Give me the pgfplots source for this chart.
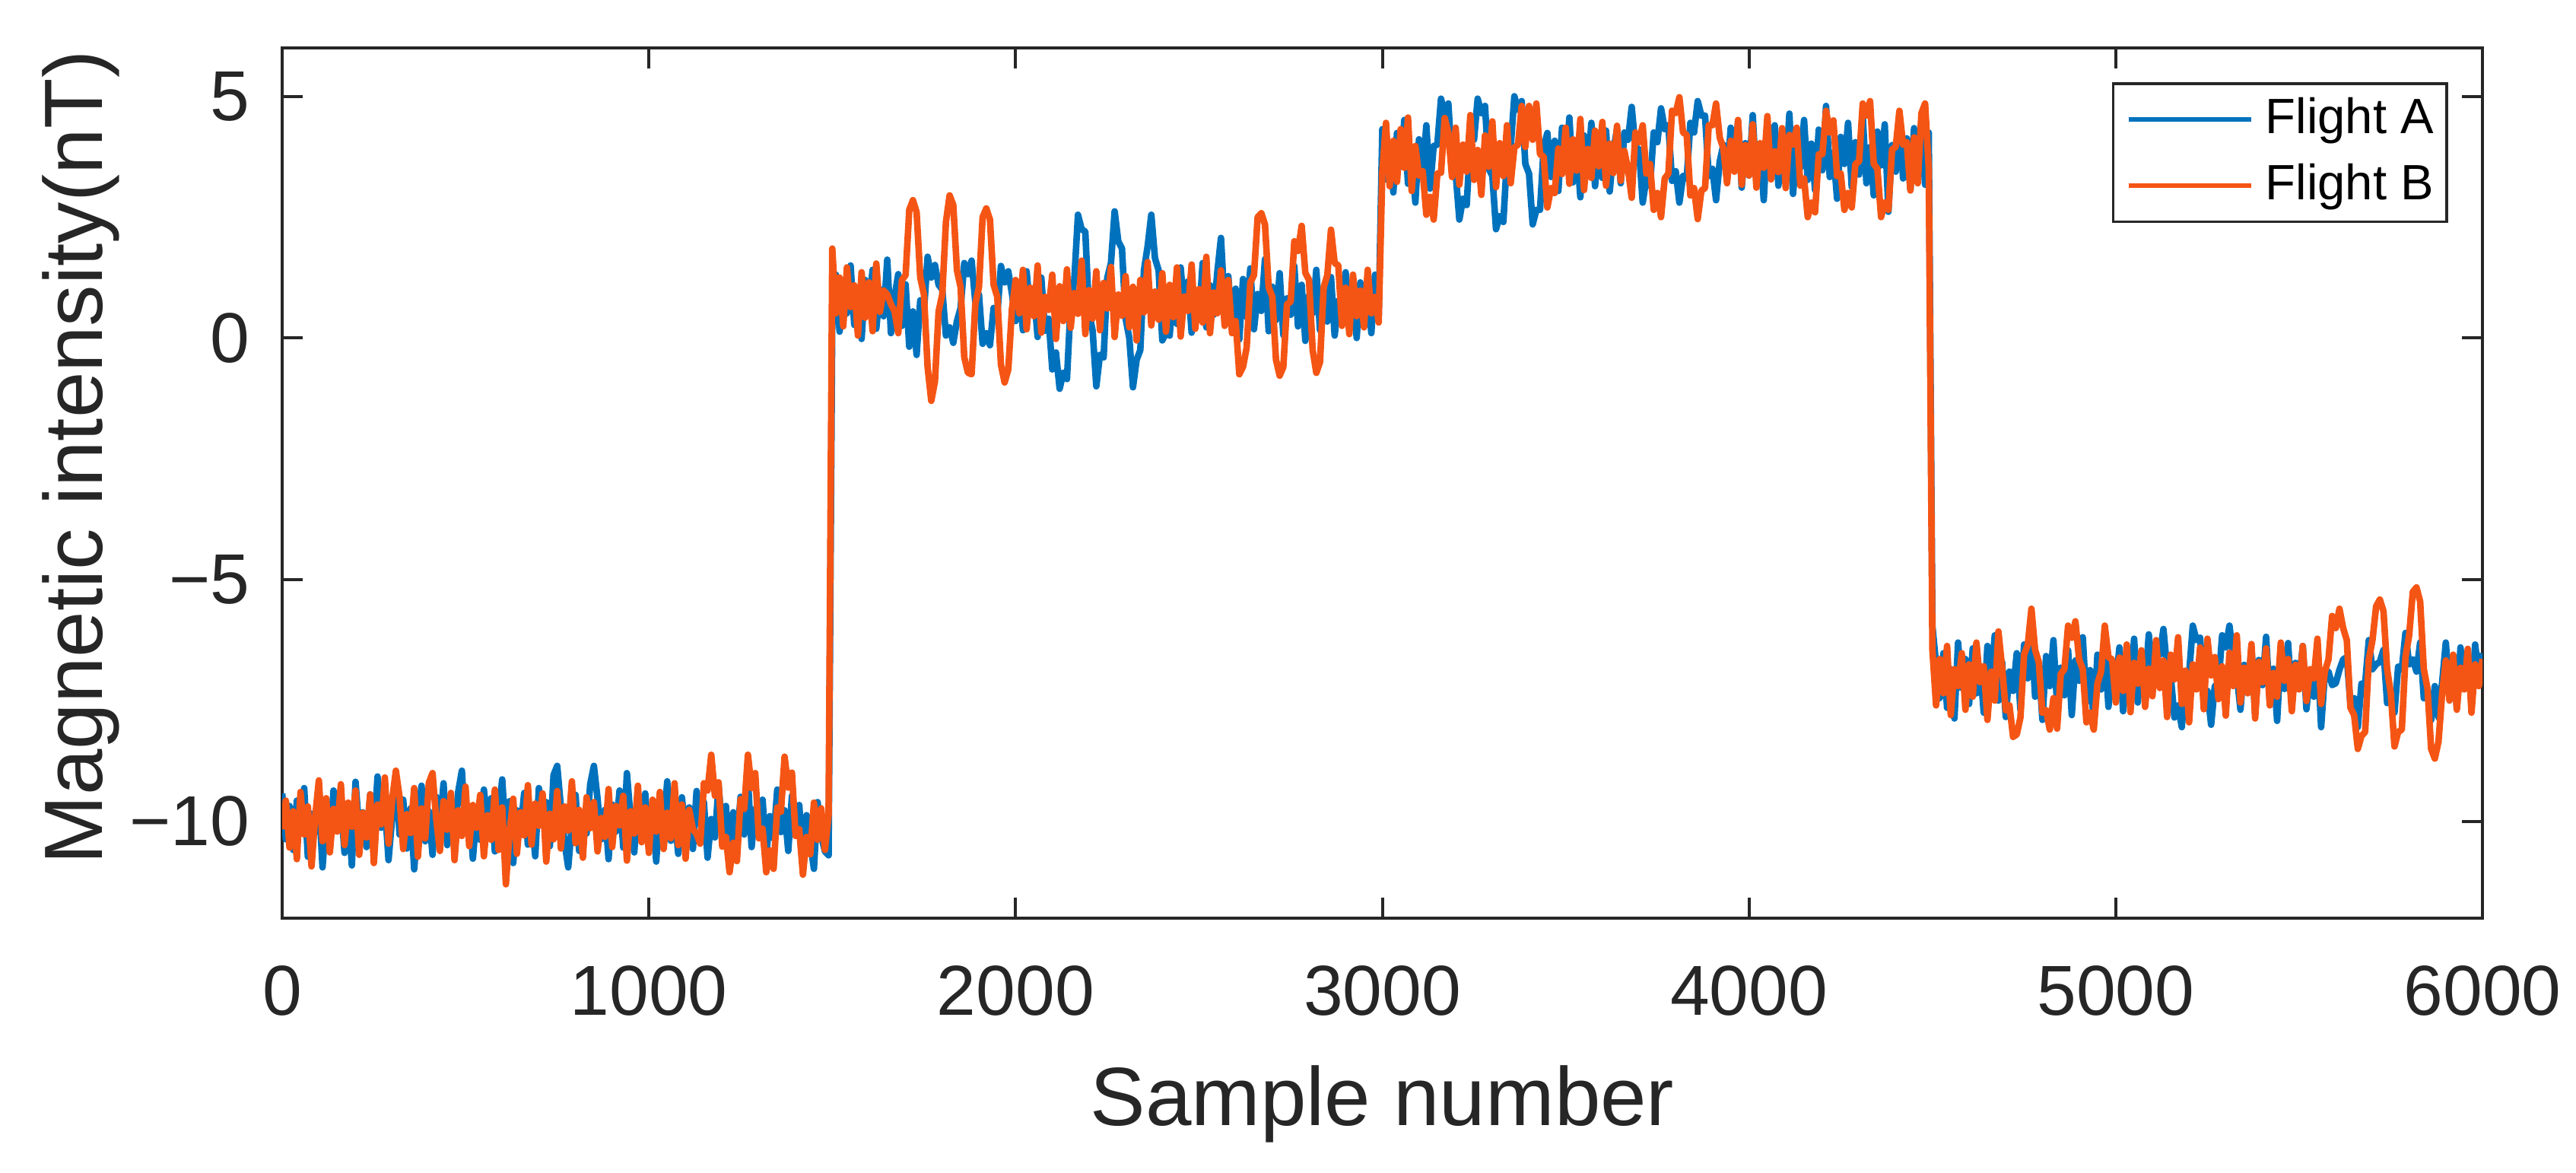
\documentclass[border=0pt]{standalone}
\usepackage{fontspec}
\setmainfont{Liberation Sans}
\usepackage{pgfplots}
\pgfplotsset{compat=1.18}
\usepackage{pgfplotstable}
\definecolor{mblue}{RGB}{0,114,189}
\definecolor{morange}{RGB}{245,85,20}
\definecolor{axgray}{RGB}{38,38,38}

\pgfplotstableread{
x a b
0 -9.42 -10.16
10 -10.37 -9.57
20 -9.68 -10.54
30 -10.59 -9.79
40 -9.57 -10.78
50 -10.06 -9.39
60 -9.31 -10.27
70 -10.73 -9.69
80 -9.84 -10.93
90 -10.22 -9.90
100 -9.53 -9.15
110 -10.95 -10.41
120 -9.89 -9.52
130 -10.46 -10.64
140 -9.36 -9.74
150 -10.11 -10.21
160 -9.61 -9.23
170 -10.65 -10.49
180 -9.76 -9.61
190 -10.91 -10.11
200 -9.18 -9.36
210 -10.19 -10.69
220 -9.81 -9.82
230 -10.53 -10.33
240 -9.44 -9.44
250 -10.33 -10.86
260 -9.07 -9.65
270 -10.13 -10.06
280 -9.66 -9.09
290 -10.80 -10.46
300 -9.90 -9.55
310 -8.99 -8.95
320 -10.27 -9.49
330 -9.55 -10.57
340 -10.56 -9.85
350 -9.73 -10.24
360 -10.99 -9.31
370 -9.98 -10.73
380 -9.26 -9.73
390 -10.41 -10.35
400 -9.79 -9.20
410 -10.69 -9.00
420 -9.49 -9.95
430 -10.16 -10.61
440 -9.21 -9.58
450 -10.49 -10.17
460 -9.63 -9.41
470 -10.30 -10.80
480 -9.39 -9.77
490 -8.95 -10.30
500 -10.22 -9.28
510 -9.69 -10.51
520 -10.77 -9.66
530 -9.84 -10.13
540 -10.38 -9.45
550 -9.34 -10.72
560 -10.05 -9.87
570 -9.52 -10.38
580 -10.62 -9.34
590 -9.92 -10.59
600 -9.13 -9.71
610 -10.35 -11.30
620 -9.58 -10.22
630 -10.86 -9.53
640 -9.77 -10.67
650 -10.17 -9.81
660 -9.41 -10.29
670 -10.48 -9.25
680 -9.87 -10.48
690 -10.72 -9.63
700 -9.31 -10.09
710 -10.09 -9.42
720 -9.60 -10.83
730 -10.51 -9.84
740 -9.04 -10.37
750 -8.85 -9.37
760 -9.71 -10.56
770 -10.43 -9.69
780 -10.95 -10.19
790 -10.06 -9.17
800 -9.45 -10.45
810 -10.61 -9.76
820 -9.82 -10.75
830 -10.25 -9.50
840 -9.23 -10.14
850 -8.85 -9.60
860 -9.53 -10.62
870 -10.37 -9.93
880 -9.76 -10.32
890 -10.78 -9.33
900 -9.65 -10.53
910 -10.21 -9.68
920 -9.36 -10.08
930 -10.54 -9.47
940 -9.00 -10.81
950 -9.93 -9.79
960 -10.64 -10.25
970 -9.57 -9.26
980 -10.32 -10.43
990 -9.42 -9.71
1000 -10.46 -10.65
1010 -9.79 -9.55
1020 -10.83 -10.21
1030 -9.61 -9.39
1040 -10.13 -10.57
1050 -9.17 -9.82
1060 -10.40 -10.35
1070 -9.85 -9.21
1080 -10.67 -10.49
1090 -9.50 -9.65
1100 -10.24 -10.77
1110 -9.71 -9.76
1120 -10.57 -10.16
1130 -9.37 -10.26
1140 -10.06 -10.46
1150 -9.60 -9.21
1160 -10.75 -9.36
1170 -9.95 -8.62
1180 -10.33 -9.47
1190 -9.26 -9.19
1200 -10.16 -10.52
1210 -9.68 -10.32
1220 -11.02 -11.05
1230 -9.81 -10.44
1240 -10.45 -10.82
1250 -9.49 -9.54
1260 -10.27 -9.74
1270 -9.12 -8.62
1280 -10.53 -9.31
1290 -9.74 -9.00
1300 -10.11 -10.35
1310 -9.55 -10.15
1320 -10.70 -11.05
1330 -9.89 -10.60
1340 -10.35 -10.98
1350 -9.34 -9.71
1360 -10.22 -9.80
1370 -9.77 -8.66
1380 -10.61 -9.30
1390 -9.47 -8.99
1400 -10.17 -10.30
1410 -9.66 -10.16
1420 -10.80 -11.10
1430 -9.87 -10.32
1440 -10.43 -10.68
1450 -10.98 -9.61
1460 -9.60 -10.38
1470 -10.30 -9.73
1480 -10.62 -10.59
1490 -10.70 -9.87
1500 0.40 1.85
1510 1.31 0.51
1520 0.13 1.25
1530 1.04 0.24
1540 0.51 1.46
1550 1.50 0.64
1560 0.27 1.09
1570 0.93 0.05
1580 -0.02 1.36
1590 1.20 0.42
1600 0.66 1.15
1610 1.41 0.14
1620 0.19 1.54
1630 1.01 0.54
1640 0.45 0.98
1650 1.62 0.90
1660 0.10 0.70
1670 0.86 0.55
1680 1.32 0.10
1690 0.25 1.20
1700 1.11 1.30
1710 -0.18 2.65
1720 0.55 2.85
1730 -0.35 2.60
1740 0.78 1.25
1750 0.55 0.90
1760 1.68 -0.60
1770 1.25 -1.30
1780 1.51 -0.90
1790 1.10 0.55
1800 1.00 0.90
1810 0.05 2.40
1820 0.22 2.95
1830 -0.10 2.75
1840 0.35 1.40
1850 0.62 1.05
1860 1.55 -0.40
1870 1.32 -0.72
1880 1.60 -0.75
1890 0.75 0.70
1900 0.90 1.05
1910 -0.12 2.50
1920 0.10 2.68
1930 -0.15 2.45
1940 0.62 1.10
1950 0.48 0.85
1960 1.49 -0.55
1970 1.15 -0.92
1980 1.38 -0.65
1990 0.92 0.60
2000 0.35 1.20
2010 1.04 0.51
2020 0.16 1.41
2030 1.38 0.18
2040 0.53 1.04
2050 0.94 0.45
2060 0.02 1.50
2070 1.25 0.11
2080 0.15 0.85
2090 0.40 0.58
2100 -0.65 1.31
2110 -0.30 -0.02
2120 -1.05 1.07
2130 -0.72 0.35
2140 -0.85 1.42
2150 0.70 0.21
2160 1.20 0.93
2170 2.55 0.50
2180 2.25 1.60
2190 2.20 0.08
2200 0.55 0.99
2210 0.15 0.40
2220 -1.00 1.38
2230 -0.35 0.16
2240 -0.40 1.14
2250 1.25 0.61
2260 1.55 1.47
2270 2.62 0.02
2280 2.00 0.90
2290 1.85 0.46
2300 0.40 1.28
2310 0.00 0.22
2320 -1.02 1.06
2330 -0.45 -0.05
2340 -0.25 1.20
2350 1.40 0.53
2360 1.90 1.57
2370 2.55 0.26
2380 1.65 0.96
2390 1.40 0.38
2400 -0.05 1.34
2410 0.10 0.13
2420 0.05 1.10
2430 0.99 0.43
2440 0.29 1.46
2450 1.46 0.03
2460 0.58 0.86
2470 1.17 0.56
2480 0.11 1.52
2490 0.96 0.19
2500 0.40 1.01
2510 1.55 0.32
2520 0.22 1.68
2530 1.09 0.10
2540 0.48 0.94
2550 1.36 0.51
2560 2.07 1.40
2570 0.67 0.25
2580 1.28 1.20
2590 0.26 0.10
2600 1.02 0.35
2610 -0.03 -0.75
2620 1.22 -0.60
2630 0.43 -0.20
2640 1.44 1.15
2650 0.18 1.30
2660 0.91 2.50
2670 0.56 2.58
2680 1.63 2.35
2690 0.14 1.05
2700 1.06 0.85
2710 0.37 -0.45
2720 1.34 -0.78
2730 0.06 -0.60
2740 0.82 0.70
2750 0.48 0.75
2760 1.49 2.00
2770 0.24 1.80
2780 1.10 2.32
2790 -0.06 1.35
2800 0.88 1.20
2810 0.51 -0.25
2820 1.41 -0.72
2830 0.16 -0.50
2840 0.99 1.05
2850 0.34 1.30
2860 1.26 2.24
2870 0.05 1.55
2880 0.77 1.50
2890 0.45 0.25
2900 1.36 1.04
2910 0.19 0.08
2920 0.93 1.31
2930 0.00 0.45
2940 1.15 0.98
2950 0.30 0.22
2960 1.07 1.41
2970 0.10 0.51
2980 1.31 0.85
2990 0.48 0.32
3000 4.32 3.44
3010 3.28 4.45
3020 4.03 3.14
3030 3.01 4.08
3040 4.24 3.23
3050 3.54 4.32
3060 4.51 3.52
3070 3.19 4.56
3080 3.91 3.04
3090 2.80 3.97
3100 4.11 3.36
3110 3.39 3.45
3120 4.40 2.55
3130 3.09 2.92
3140 3.97 2.45
3150 4.00 3.40
3160 4.95 3.42
3170 4.62 4.55
3180 4.85 4.24
3190 3.60 3.33
3200 3.40 4.35
3210 2.45 3.17
3220 2.88 4.00
3230 2.75 3.44
3240 4.10 4.61
3250 4.10 3.27
3260 4.95 3.89
3270 4.65 2.96
3280 4.80 4.19
3290 3.50 3.54
3300 3.35 4.48
3310 2.25 3.12
3320 2.52 4.03
3330 2.40 3.35
3340 3.75 4.40
3350 3.95 3.20
3360 5.00 3.94
3370 4.72 4.00
3380 4.90 4.80
3390 3.60 3.95
3400 3.40 4.80
3410 2.35 4.10
3420 2.65 4.85
3430 2.65 3.80
3440 3.95 3.75
3450 4.24 2.70
3460 3.33 3.10
3470 4.08 3.00
3480 3.04 3.92
3490 4.35 3.39
3500 3.49 4.35
3510 4.56 3.19
3520 3.22 4.11
3530 3.94 3.46
3540 2.91 4.53
3550 4.19 3.06
3560 3.44 3.91
3570 4.45 3.31
3580 3.14 4.29
3590 4.00 3.55
3600 3.31 4.47
3610 4.29 3.15
3620 3.03 4.02
3630 3.87 3.41
3640 4.32 4.39
3650 3.20 3.25
3660 4.25 3.87
3670 4.10 3.49
3680 4.78 2.90
3690 3.95 4.25
3700 3.90 4.05
3710 2.80 4.40
3720 3.30 3.40
3730 3.15 3.60
3740 4.25 2.65
3750 4.05 3.00
3760 4.75 2.50
3770 4.32 3.30
3780 4.40 3.40
3790 3.25 4.70
3800 3.45 4.65
3810 2.80 4.98
3820 3.35 4.25
3830 3.30 4.20
3840 4.45 2.95
3850 4.25 3.10
3860 4.90 2.46
3870 4.60 3.05
3880 4.60 3.10
3890 3.35 4.40
3900 3.50 4.40
3910 2.85 4.85
3920 3.65 4.15
3930 4.00 3.92
3940 3.28 3.20
3950 4.35 4.08
3960 3.49 3.44
3970 4.48 4.51
3980 3.11 3.17
3990 4.03 3.99
4000 3.36 3.36
4010 4.61 4.42
4020 3.23 3.11
4030 3.97 4.03
4040 2.85 3.52
4050 4.24 4.59
4060 3.55 3.28
4070 4.40 3.86
4080 3.15 3.43
4090 4.10 4.34
4100 3.41 3.10
4110 4.64 4.20
4120 2.98 4.00
4130 3.92 4.35
4140 3.52 3.15
4150 4.51 3.30
4160 3.27 2.50
4170 4.02 2.80
4180 3.06 2.60
4190 4.31 3.80
4200 3.47 3.80
4210 4.80 4.70
4220 3.33 4.25
4230 3.84 4.50
4240 2.88 3.35
4250 4.16 3.40
4260 3.60 2.65
4270 4.45 3.00
4280 3.12 2.70
4290 4.05 3.60
4300 3.38 3.65
4310 4.58 4.85
4320 3.20 4.60
4330 3.95 4.90
4340 2.95 3.60
4350 4.27 3.50
4360 3.57 2.50
4370 4.42 2.80
4380 2.61 2.65
4390 3.99 3.90
4400 3.44 3.95
4410 4.55 4.70
4420 3.30 4.00
4430 4.13 4.05
4440 3.07 3.05
4450 4.34 4.15
4460 3.51 3.20
4470 4.47 4.65
4480 3.17 4.85
4490 4.25 3.50
4500 -5.96 -6.45
4510 -6.75 -7.60
4520 -7.45 -6.64
4530 -6.52 -7.35
4540 -7.65 -6.37
4550 -6.85 -7.80
4560 -7.87 -6.85
4570 -6.30 -7.20
4580 -7.24 -6.52
4590 -6.64 -7.69
4600 -7.57 -6.75
4610 -6.42 -7.42
4620 -7.35 -6.30
4630 -6.79 -7.12
4640 -7.75 -6.79
4650 -6.37 -7.90
4660 -7.12 -6.90
4670 -6.15 -7.50
4680 -7.50 -6.07
4690 -6.70 -6.82
4700 -7.84 -7.70
4710 -6.90 -7.60
4720 -7.30 -8.25
4730 -6.52 -8.20
4740 -7.69 -7.85
4750 -6.34 -6.55
4760 -7.04 -6.35
4770 -6.07 -5.60
4780 -7.42 -6.45
4790 -6.78 -6.70
4800 -7.90 -7.75
4810 -6.58 -7.70
4820 -7.20 -8.10
4830 -6.25 -7.45
4840 -7.60 -8.08
4850 -6.82 -6.95
4860 -7.39 -6.85
4870 -6.46 -5.95
4880 -7.80 -6.20
4890 -6.67 -5.86
4900 -7.09 -6.65
4910 -6.19 -6.85
4920 -7.53 -7.95
4930 -6.87 -7.75
4940 -7.95 -8.10
4950 -6.55 -7.15
4960 -7.27 -6.90
4970 -6.33 -5.95
4980 -7.63 -6.60
4990 -6.73 -6.65
5000 -7.15 -7.54
5010 -6.40 -6.61
5020 -7.72 -7.30
5030 -6.93 -6.34
5040 -7.38 -7.74
5050 -6.22 -6.72
5060 -7.54 -7.15
5070 -6.61 -6.46
5080 -7.21 -7.63
5090 -6.13 -6.84
5100 -6.98 -7.41
5110 -6.30 -6.25
5120 -6.55 -7.24
5130 -6.02 -6.67
5140 -6.85 -7.84
5150 -7.00 -6.55
5160 -7.85 -7.06
5170 -7.60 -6.19
5180 -8.05 -7.57
5190 -7.15 -6.88
5200 -6.95 -7.95
5210 -5.95 -6.75
5220 -6.25 -7.27
5230 -6.20 -6.40
5240 -7.35 -7.68
5250 -7.30 -6.22
5260 -8.00 -6.98
5270 -7.20 -6.60
5280 -7.15 -7.47
5290 -6.15 -6.79
5300 -6.40 -7.81
5310 -5.95 -6.51
5320 -6.60 -7.20
5330 -6.97 -6.15
5340 -7.69 -7.54
5350 -6.76 -6.82
5360 -7.33 -7.35
5370 -6.39 -6.33
5380 -7.77 -7.87
5390 -6.66 -6.70
5400 -7.18 -7.12
5410 -6.18 -6.42
5420 -7.51 -7.60
5430 -6.84 -6.93
5440 -7.92 -7.42
5450 -6.49 -6.30
5460 -7.26 -7.09
5470 -6.31 -6.64
5480 -7.59 -7.72
5490 -6.72 -6.76
5500 -7.11 -7.27
5510 -6.37 -6.37
5520 -7.68 -7.51
5530 -6.88 -6.85
5540 -7.42 -7.04
5550 -6.54 -6.22
5560 -8.05 -7.57
5570 -6.95 -6.90
5580 -6.90 -6.65
5590 -7.18 -5.75
5600 -7.14 -6.00
5610 -6.86 -5.60
5620 -6.65 -6.00
5630 -6.60 -6.25
5640 -7.60 -7.65
5650 -7.45 -7.80
5660 -8.05 -8.50
5670 -7.15 -8.23
5680 -7.15 -8.15
5690 -6.25 -6.65
5700 -6.85 -6.25
5710 -6.75 -5.55
5720 -6.70 -5.41
5730 -6.45 -5.65
5740 -7.55 -6.85
5750 -7.50 -7.35
5760 -7.75 -8.45
5770 -6.80 -8.15
5780 -6.85 -8.10
5790 -6.10 -6.60
5800 -6.75 -6.15
5810 -6.65 -5.25
5820 -6.90 -5.16
5830 -6.30 -5.45
5840 -7.45 -6.85
5850 -7.30 -7.25
5860 -7.90 -8.50
5870 -7.20 -8.70
5880 -7.85 -8.35
5890 -7.12 -7.35
5900 -6.30 -6.67
5910 -7.39 -7.50
5920 -6.58 -6.55
5930 -7.66 -7.69
5940 -6.40 -6.82
5950 -7.20 -7.27
5960 -6.69 -6.43
5970 -7.54 -7.75
5980 -6.34 -6.75
5990 -7.00 -7.20
6000 -6.52 -6.64
}\datatable

\begin{document}
\begin{tikzpicture}
\path[use as bounding box] (-49.47pt,-44.54pt) rectangle (402.13pt,160.93pt);
\begin{axis}[
  at={(0pt,0pt)}, anchor=south west,
  scale only axis,
  width=385.73pt, height=152.53pt,
  xmin=0, xmax=6000, ymin=-12, ymax=6,
  xtick={0,1000,2000,3000,4000,5000,6000},
  xticklabels={0,1000,2000,3000,4000,5000,6000},
  ytick={-10,-5,0,5},
  yticklabels={−10,−5,0,5},
  /pgf/number format/assume math mode=true,
  tick align=inside,
  major tick length=3.6pt,
  axis line style={axgray, line width=0.53pt},
  tick style={axgray, line width=0.53pt},
  tick label style={text=axgray, font=\fontsize{12.4}{14}\selectfont},
  xticklabel style={anchor=north, inner sep=0pt, yshift=-8.1pt},
  yticklabel style={anchor=east, inner sep=0pt, xshift=-5.5pt},
  label style={text=axgray, font=\fontsize{14.5}{17}\selectfont},
  xlabel={Sample number},
  ylabel={Magnetic intensity(nT)},
  xlabel style={at={(axis description cs:0.5,0)}, anchor=base, yshift=-36.4pt},
  ylabel style={at={([xshift=-31.5pt,yshift=4.5pt]axis description cs:0,0.5)}, anchor=base},
  legend style={at={(rel axis cs:1,1)}, anchor=north east, xshift=-6pt, yshift=-6pt,
    draw=axgray, line width=0.5pt, text=black,
    font=\fontsize{8.7}{10}\selectfont,
    inner xsep=2.3pt, inner ysep=0.5pt, row sep=0pt,
    nodes={inner xsep=0pt, inner ysep=1.9pt},
    /tikz/every odd column/.append style={column sep=2.1pt}},
  legend cell align=left,
  legend image code/.code={\draw[#1, line width=0.8pt] (0pt,0pt) -- (21.5pt,0pt);},
]
\addplot[mblue, line width=1.15pt, line join=round] table[x=x, y=a]{\datatable};
\addlegendentry{Flight A}
\addplot[morange, line width=1.15pt, line join=round] table[x=x, y=b]{\datatable};
\addlegendentry{Flight B}
\end{axis}
\end{tikzpicture}
\end{document}
